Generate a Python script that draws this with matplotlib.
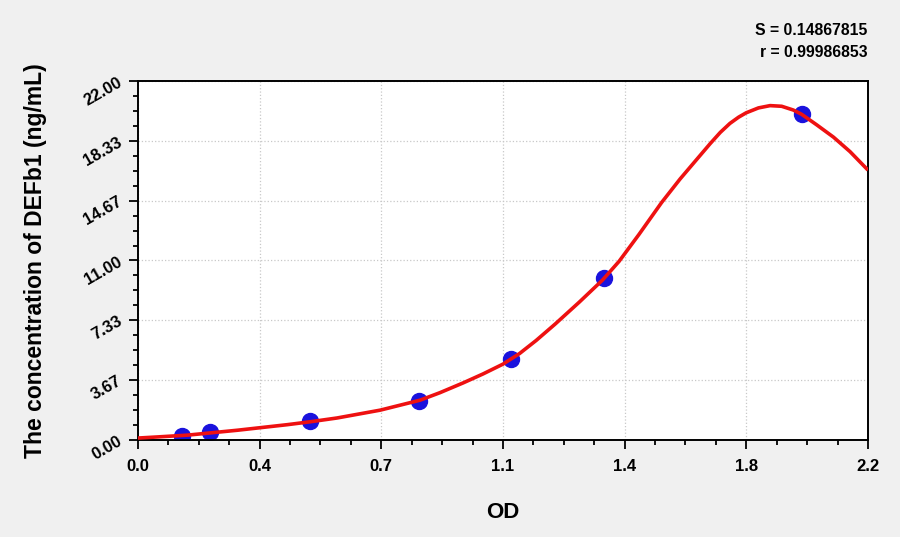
import numpy as np
import matplotlib
matplotlib.use('Agg')
import matplotlib.pyplot as plt
from matplotlib.ticker import MultipleLocator

# standard points
od = [0.132, 0.217, 0.518, 0.847, 1.123, 1.404, 2.000]
conc = [0.25, 0.52, 1.15, 2.42, 4.95, 9.90, 19.95]

# fitted curve
fit_od = [0.0, 0.06, 0.15, 0.30, 0.45, 0.52, 0.60, 0.73, 0.85, 0.91, 0.98,
          1.04, 1.10, 1.15, 1.20, 1.257, 1.33, 1.40, 1.45, 1.51, 1.578, 1.634,
          1.68, 1.724, 1.755, 1.784, 1.81, 1.833, 1.87, 1.905, 1.94, 1.975,
          2.00, 2.045, 2.096, 2.146, 2.20]
fit_conc = [0.12, 0.19, 0.30, 0.60, 0.94, 1.12, 1.35, 1.83, 2.44, 2.90, 3.50,
            4.05, 4.65, 5.30, 6.10, 7.10, 8.45, 9.80, 10.95, 12.60, 14.55, 16.00,
            17.10, 18.15, 18.85, 19.40, 19.78, 20.05, 20.35, 20.49, 20.45, 20.22,
            19.96, 19.32, 18.56, 17.67, 16.54]

x_ticks = [0.0, 2.2/6, 2*2.2/6, 3*2.2/6, 4*2.2/6, 5*2.2/6, 2.2]
x_labels = ['0.0', '0.4', '0.7', '1.1', '1.4', '1.8', '2.2']
y_ticks = [0.0, 22/6, 2*22/6, 3*22/6, 4*22/6, 5*22/6, 22.0]
y_labels = ['0.00', '3.67', '7.33', '11.00', '14.67', '18.33', '22.00']

plt.rcParams['font.family'] = ['Liberation Sans', 'DejaVu Sans']
plt.rcParams['font.weight'] = 'bold'

fig = plt.figure(figsize=(9, 5.37), dpi=100, facecolor='#f0f0f0')
ax = fig.add_axes([0.1533, 0.1806, 0.8111, 0.6686])
ax.set_facecolor('white')

ax.plot(fit_od, fit_conc, color='#ee1111', lw=2.6, zorder=3,
        solid_joinstyle='round', solid_capstyle='butt')
ax.plot(od, conc, 'o', color='#1a12dd', markersize=11.5, zorder=2)

ax.set_xlim(0, 2.2)
ax.set_ylim(0, 22)
ax.set_xticks(x_ticks)
ax.set_xticklabels(x_labels)
ax.set_yticks(y_ticks)
ax.set_yticklabels(y_labels, rotation=30, rotation_mode='anchor', va='center', ha='right')
ax.xaxis.set_minor_locator(MultipleLocator(2.2/24))
ax.yaxis.set_minor_locator(MultipleLocator(22/24))
ax.tick_params(which='major', length=6.5, width=1.3, labelsize=12)
ax.tick_params(axis='x', which='major', pad=7)
ax.tick_params(axis='y', which='major', pad=6)
ax.tick_params(which='minor', length=3.6, width=1.3)
ax.tick_params(top=False, right=False, which='both')
for lab in ax.get_xticklabels() + ax.get_yticklabels():
    lab.set_fontweight('bold')
for sp in ax.spines.values():
    sp.set_linewidth(1.4)

ax.grid(True, which='major', color='#c8c8c8', linestyle=':', lw=0.9)

ax.set_xlabel('OD', fontsize=16, fontweight='bold', labelpad=20)
ax.set_ylabel('The concentration of DEFb1 (ng/mL)', fontsize=16.5, fontweight='bold', labelpad=24)

fig.text(0.964, 0.944, 'S = 0.14867815', ha='right', va='center', fontsize=11.3, fontweight='bold')
fig.text(0.964, 0.903, 'r = 0.99986853', ha='right', va='center', fontsize=11.3, fontweight='bold')

fig.savefig('out.png', dpi=100, facecolor=fig.get_facecolor())
